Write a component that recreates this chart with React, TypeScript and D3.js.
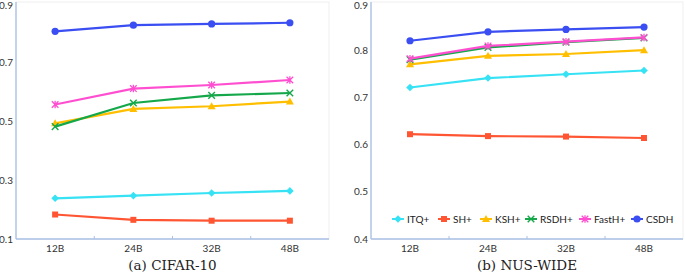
import React from "react";
import * as d3 from "d3";

const categories = ["12B", "24B", "32B", "48B"];
const seriesNames = ["ITQ+", "SH+", "KSH+", "RSDH+", "FastH+", "CSDH"];
const seriesColors = ["#36e2f4", "#ff5533", "#ffbf00", "#15a84a", "#ff4fd0", "#3a4ef2"];
const seriesMarkers = ["diamond", "square", "triangle", "x", "star", "circle"];

const cifarITQ = [0.238, 0.247, 0.256, 0.263];
const cifarSH = [0.183, 0.165, 0.162, 0.162];
const cifarKSH = [0.492, 0.541, 0.550, 0.566];
const cifarRSDH = [0.481, 0.561, 0.587, 0.595];
const cifarFastH = [0.556, 0.610, 0.622, 0.639];
const cifarCSDH = [0.804, 0.825, 0.829, 0.833];
const cifarTicks = [0.1, 0.3, 0.5, 0.7, 0.9];

const nusITQ = [0.721, 0.741, 0.749, 0.757];
const nusSH = [0.622, 0.618, 0.617, 0.614];
const nusKSH = [0.770, 0.788, 0.792, 0.800];
const nusRSDH = [0.780, 0.806, 0.817, 0.826];
const nusFastH = [0.782, 0.809, 0.818, 0.827];
const nusCSDH = [0.820, 0.839, 0.844, 0.849];
const nusTicks = [0.4, 0.5, 0.6, 0.7, 0.8, 0.9];

const cifarSeries = [cifarITQ, cifarSH, cifarKSH, cifarRSDH, cifarFastH, cifarCSDH];
const nusSeries = [nusITQ, nusSH, nusKSH, nusRSDH, nusFastH, nusCSDH];

const tickFont = "Lato, 'Open Sans', sans-serif";

function Marker({ type, x, y, color }: { type: string; x: number; y: number; color: string }) {
  if (type === "circle") return <circle cx={x} cy={y} r={3.6} fill={color} />;
  if (type === "square") return <rect x={x - 3} y={y - 3} width={6} height={6} fill={color} />;
  if (type === "diamond")
    return <path d={`M${x},${y - 3.8}L${x + 3.8},${y}L${x},${y + 3.8}L${x - 3.8},${y}Z`} fill={color} />;
  if (type === "triangle")
    return <path d={`M${x},${y - 4}L${x + 4},${y + 3}L${x - 4},${y + 3}Z`} fill={color} />;
  if (type === "x")
    return (
      <path d={`M${x - 3.3},${y - 3.3}L${x + 3.3},${y + 3.3}M${x - 3.3},${y + 3.3}L${x + 3.3},${y - 3.3}`} stroke={color} strokeWidth={1.4} />
    );
  return (
    <path
      d={`M${x - 3.3},${y - 3.3}L${x + 3.3},${y + 3.3}M${x - 3.3},${y + 3.3}L${x + 3.3},${y - 3.3}M${x},${y - 3.8}L${x},${y + 3.8}`}
      stroke={color}
      strokeWidth={1.3}
    />
  );
}

function Panel({
  x0, x1, yTop, yBot, domain, ticks, series, caption, legend,
}: {
  x0: number; x1: number; yTop: number; yBot: number; domain: [number, number];
  ticks: number[]; series: number[][]; caption: string; legend: boolean;
}) {
  const xs = d3.scaleBand<string>().domain(categories).range([x0, x1]);
  const ys = d3.scaleLinear().domain(domain).range([yBot, yTop]);
  const line = d3
    .line<number>()
    .x((_, i) => (xs(categories[i]) as number) + xs.bandwidth() / 2)
    .y((d) => ys(d));
  const axisColor = "#a8c0e6";
  const legendX = [398, 444, 486, 531, 585, 637];
  return (
    <g>
      <rect x={x0} y={yTop - 1} width={x1 - x0} height={yBot - yTop + 1} fill="none" stroke="#efefef" strokeWidth={1} />
      <line x1={x0} x2={x0} y1={yTop - 1} y2={yBot} stroke={axisColor} strokeWidth={1.3} />
      <line x1={x0} x2={x1} y1={yBot} y2={yBot} stroke={axisColor} strokeWidth={1.3} />
      {categories.slice(1).map((c) => (
        <line key={c} x1={xs(c)} x2={xs(c)} y1={yBot} y2={yBot - 3} stroke={axisColor} strokeWidth={1} />
      ))}
      {ticks.map((t) => (
        <text key={t} x={x0 - 3} y={Math.max(ys(t) + 3.5, 9)} textAnchor="end" fontSize={10} fontFamily={tickFont} fill="#333">
          {t.toFixed(1)}
        </text>
      ))}
      {categories.map((c) => (
        <text key={c} x={(xs(c) as number) + xs.bandwidth() / 2} y={yBot + 13} textAnchor="middle" fontSize={10} fontFamily={tickFont} fill="#333">
          {c}
        </text>
      ))}
      {series.map((s, k) => (
        <g key={k}>
          <path d={line(s) || ""} fill="none" stroke={seriesColors[k]} strokeWidth={2.2} />
          {s.map((v, i) => (
            <Marker key={i} type={seriesMarkers[k]} x={(xs(categories[i]) as number) + xs.bandwidth() / 2} y={ys(v)} color={seriesColors[k]} />
          ))}
        </g>
      ))}
      <text x={(x0 + x1) / 2} y={yBot + 31} textAnchor="middle" fontSize={13.5} fontFamily="'DejaVu Serif', serif" fill="#222">
        {caption}
      </text>
      {legend &&
        seriesNames.map((n, k) => (
          <g key={n}>
            <line x1={legendX[k] - 6} x2={legendX[k] + 6} y1={219} y2={219} stroke={seriesColors[k]} strokeWidth={2} />
            <Marker type={seriesMarkers[k]} x={legendX[k]} y={219} color={seriesColors[k]} />
            <text x={legendX[k] + 9} y={222.5} fontSize={10} fontFamily={tickFont} fill="#222">
              {n}
            </text>
          </g>
        ))}
    </g>
  );
}

export default function App() {
  return (
    <svg width={685} height={276} style={{ position: "absolute", left: 0, top: 0, background: "#fff" }}>
      <Panel x0={16} x1={329} yTop={3} yBot={239} domain={[0.1, 0.9]} ticks={cifarTicks} series={cifarSeries} caption="(a) CIFAR-10" legend={false} />
      <Panel x0={371} x1={683} yTop={3} yBot={239} domain={[0.4, 0.9]} ticks={nusTicks} series={nusSeries} caption="(b) NUS-WIDE" legend={true} />
    </svg>
  );
}
